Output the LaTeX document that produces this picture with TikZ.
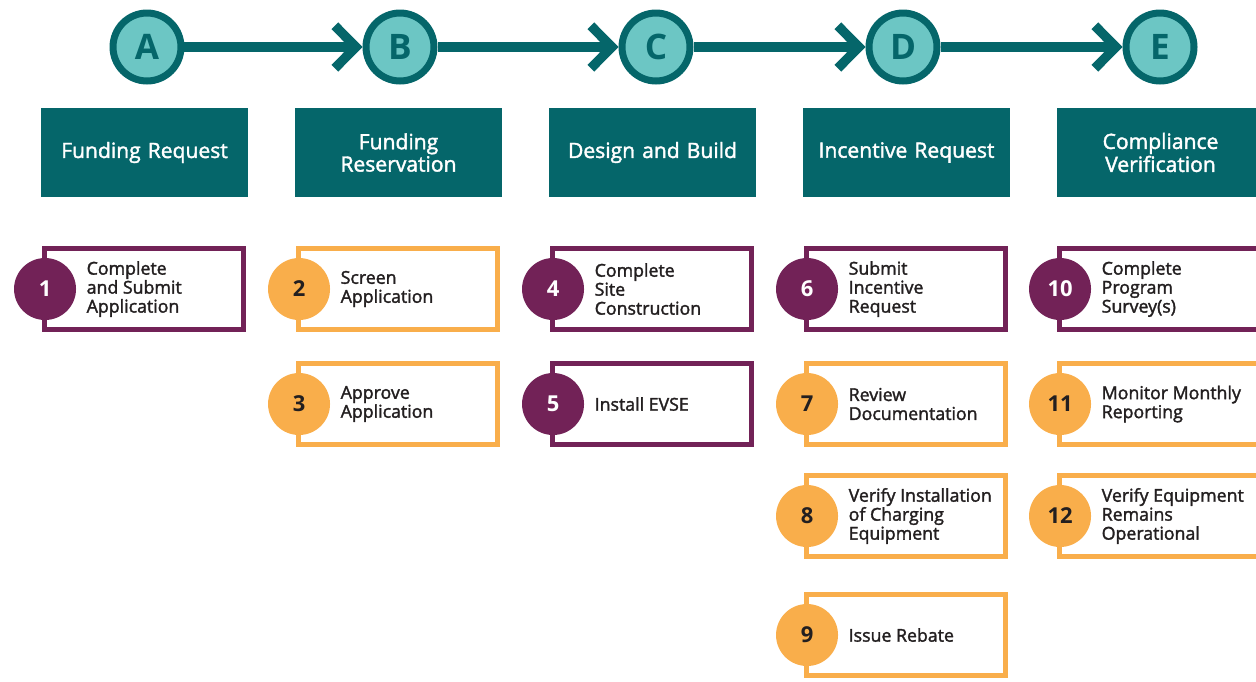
\documentclass[tikz,border=0pt]{standalone}
\usepackage{fontspec}
\setmainfont{Open Sans}
\newfontfamily\semib{Open Sans}[FakeBold=1.8]
\usetikzlibrary{arrows.meta,positioning}

\definecolor{tealdark}{RGB}{5,102,106}
\definecolor{teallight}{RGB}{108,198,196}
\definecolor{plum}{RGB}{114,34,87}
\definecolor{gold}{RGB}{249,174,75}
\definecolor{ink}{RGB}{35,31,32}

\tikzset{
  phase/.style={circle, draw=tealdark, line width=0.14cm, fill=teallight,
    minimum size=1.36cm, inner sep=0pt, text=tealdark,
    font=\fontsize{20}{20}\selectfont\bfseries},
  header/.style={fill=tealdark, minimum width=4.1cm, minimum height=1.78cm,
    text width=3.9cm, align=center, text=white,
    font=\semib\fontsize{12}{11.6}\selectfont},
  stepbox/.style={draw=#1, line width=0.1cm, minimum width=3.98cm,
    minimum height=1.62cm, fill=white},
  stepnum/.style={circle, fill=#1, minimum size=1.24cm, inner sep=0pt,
    font=\fontsize{12.5}{12.5}\selectfont\bfseries},
  steptext/.style={inner sep=0pt, align=left, text=ink,
    font=\semib\fontsize{10.1}{10.8}\selectfont},
  flow/.style={draw=tealdark, line width=0.19cm,
    -{Straight Barb[length=0.42cm, width=0.85cm]}}
}

\begin{document}
\begin{tikzpicture}[x=0.02cm, y=-0.02cm]
\useasboundingbox (0,0) rectangle (1256,681);

% phases and their titles
\foreach \i/\cx/\l/\h in {0/147/A/{Funding Request}, 1/400/B/{Funding\\Reservation},
    2/656/C/{Design and Build}, 3/903/D/{Incentive Request},
    4/1160/E/{Compliance\\Verification}}{
  \node[phase] (\l) at (\cx,47) {\l};
  \node[header] (h\l) at (144.5+254*\i,152.5) {\h};}

\foreach \a/\b in {A/B,B/C,C/D,D/E}
  \draw[flow] (\a) -- (\b);

% steps: x / y / number / colour / number colour / text
\foreach \x/\y/\n/\col/\tc/\txt in {
    144/289/1/plum/white/{Complete\\and Submit\\Application},
    398/289/2/gold/ink/{Screen\\Application},
    398/404/3/gold/ink/{Approve\\Application},
    652/289/4/plum/white/{Complete\\Site\\Construction},
    652/404/5/plum/white/{Install EVSE},
    906/289/6/plum/white/{Submit\\Incentive\\Request},
    906/404/7/gold/ink/{Review\\Documentation},
    906/516/8/gold/ink/{Verify Installation\\of Charging\\Equipment},
    906/635/9/gold/ink/{Issue Rebate},
    1159/289/10/plum/white/{Complete\\Program\\Survey(s)},
    1159/404/11/gold/ink/{Monitor Monthly\\Reporting},
    1159/516/12/gold/ink/{Verify Equipment\\Remains\\Operational}}{
  \node[stepbox=\col] (s\n) at (\x,\y) {};
  \node[stepnum=\col, text=\tc] (n\n) at ([xshift=0.06cm]s\n.west) {\n};
  \node[steptext, right=0.2cm of n\n] (t\n) {\txt};}

\end{tikzpicture}
\end{document}
